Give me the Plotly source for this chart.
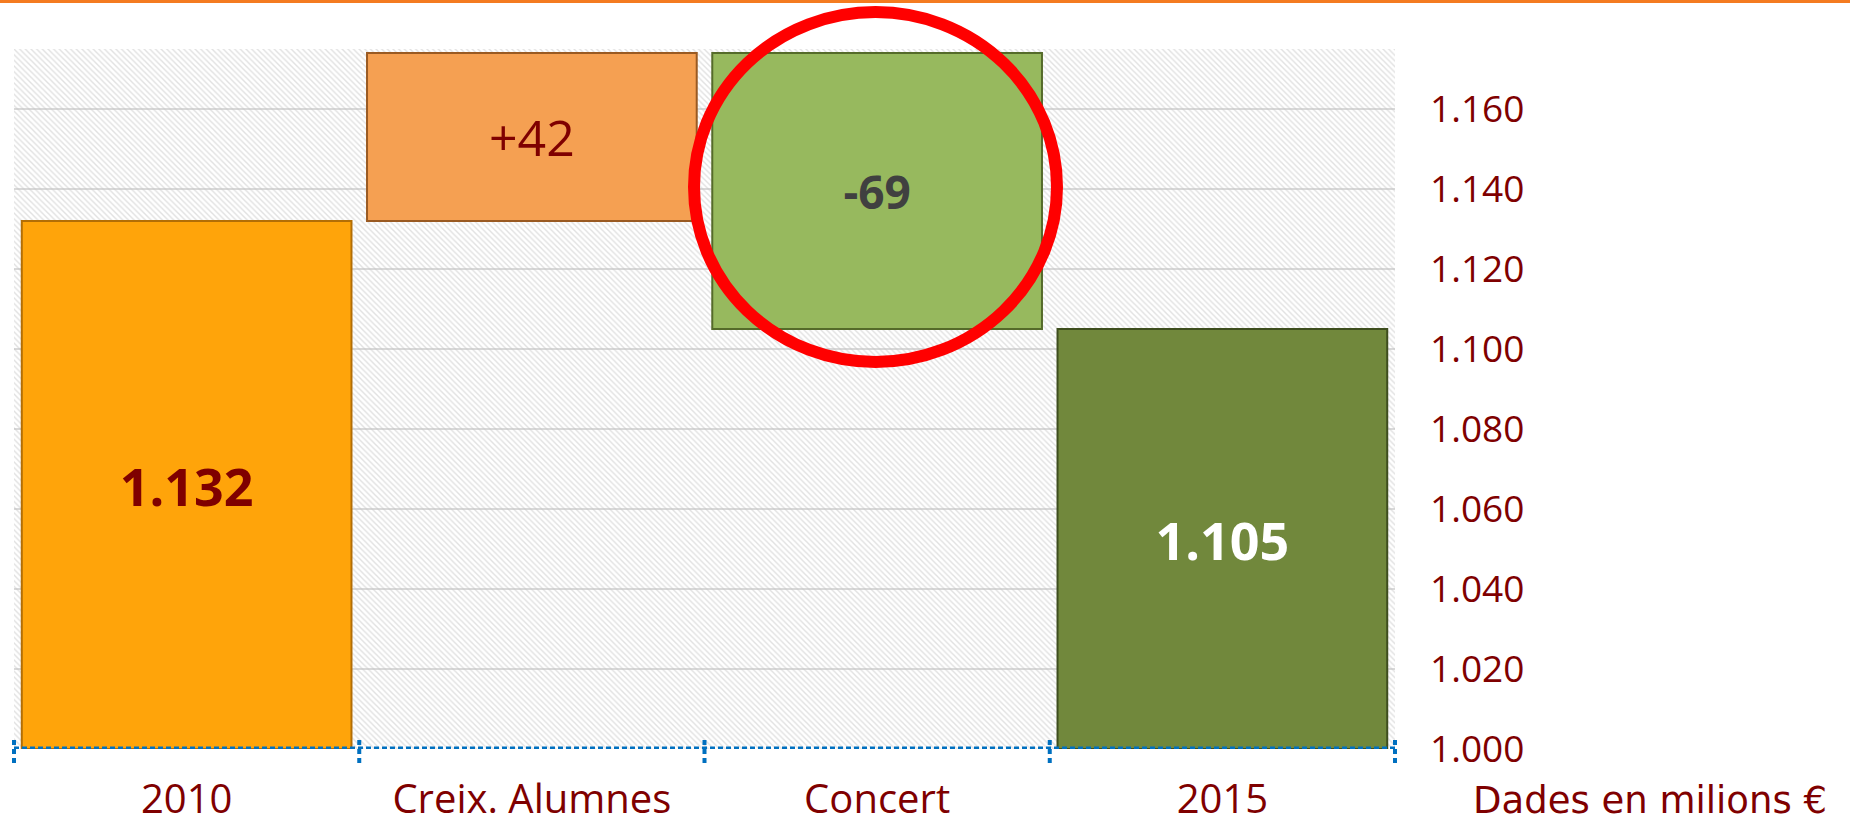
import plotly.graph_objects as go

# ---------------- data ----------------
categories = ["2010", "Creix. Alumnes", "Concert", "2015"]
measures = ["absolute", "relative", "relative", "total"]
values = [1132, 42, -69, 1105]
y_ticks = [1000, 1020, 1040, 1060, 1080, 1100, 1120, 1140, 1160]
y_min, y_max = 1000, 1175
unit_note = "Dades en milions €"

# ---------------- styles ----------------
bar_colors = ["#FFA40A", "#F5A052", "#97B95E", "#71883C"]
bar_lines = ["#B36E05", "#9A5A22", "#556B2A", "#3E4E1E"]
label_colors = ["#7F0000", "#7F0000", "#404040", "#FFFFFF"]
label_weights = ["bold", "normal", "bold", "bold"]
label_sizes = [52, 50, 46, 52]
dark_red = "#7F0000"

W, H = 1850, 824
px_left, px_right, px_top, px_bottom = 14, 1395, 49, 749
xdom = [px_left / W, px_right / W]
ydom = [(H - px_bottom) / H, (H - px_top) / H]

# waterfall bases / labels (absolute bars start at the axis floor)
bases, heights, labels = [], [], []
running = 0
for m, v in zip(measures, values):
    if m in ("absolute", "total"):
        bases.append(y_min); heights.append(v - y_min); running = v
        labels.append(f"{v:,}".replace(",", "."))
    else:
        bases.append(running); heights.append(v); running += v
        labels.append(f"{v:+d}")

xpos = list(range(len(categories)))
n = len(categories)

fig = go.Figure()

# hatched plot background
fig.add_trace(go.Bar(
    x=[(n - 1) / 2], y=[y_max - y_min], base=[y_min], width=[n],
    marker=dict(color="rgba(0,0,0,0)", line=dict(width=0),
                pattern=dict(shape="\\", fgcolor="#c4c4c4", bgcolor="rgba(0,0,0,0)",
                             size=4, solidity=0.35)),
    hoverinfo="skip", showlegend=False,
))

for i in range(n):
    fig.add_trace(go.Bar(
        x=[xpos[i]], y=[heights[i]], base=[bases[i]], width=[0.955],
        marker=dict(color=bar_colors[i], line=dict(color=bar_lines[i], width=2)),
        text=[labels[i]], textposition="inside", insidetextanchor="middle",
        textangle=0, constraintext="none",
        textfont=dict(family="Open Sans", size=label_sizes[i],
                      color=label_colors[i], weight=label_weights[i]),
        showlegend=False, name=categories[i],
    ))

shapes = []
# orange top rule
shapes.append(dict(type="line", xref="paper", yref="paper", x0=0, x1=1,
                   y0=(H - 1.5) / H, y1=(H - 1.5) / H,
                   line=dict(color="#F47B20", width=3), layer="above"))
# blue dotted baseline
shapes.append(dict(type="line", xref="paper", yref="y", x0=xdom[0], x1=xdom[1],
                   y0=y_min, y1=y_min,
                   line=dict(color="#0070C0", width=5, dash="5px,3px"), layer="above"))
# dotted boundary ticks
for k in range(n + 1):
    xp = xdom[0] + k / n * (xdom[1] - xdom[0])
    shapes.append(dict(type="line", xref="paper", yref="paper", x0=xp, x1=xp,
                       y0=ydom[0] - 14 / H, y1=ydom[0] + 13 / H,
                       line=dict(color="#0070C0", width=4, dash="5px,4px"), layer="above"))
# red highlight ellipse
shapes.append(dict(type="circle", xref="paper", yref="paper",
                   x0=694 / W, x1=1057 / W, y0=(H - 362) / H, y1=(H - 12) / H,
                   line=dict(color="#FF0000", width=12), layer="above"))

fig.update_layout(
    width=W, height=H, margin=dict(l=0, r=0, t=0, b=0, autoexpand=False),
    paper_bgcolor="white", plot_bgcolor="white",
    barmode="overlay", separators=",.",
    shapes=shapes,
    xaxis=dict(domain=xdom, range=[-0.5, n - 0.5], tickmode="array",
               tickvals=xpos, ticktext=categories, showgrid=False, zeroline=False,
               showline=False, ticks="", ticklabelstandoff=23, automargin=False,
               tickfont=dict(family="Open Sans", size=40, color=dark_red)),
    yaxis=dict(domain=ydom, range=[y_min, y_max], side="right", tickmode="array",
               tickvals=y_ticks, tickformat=",d", showgrid=True,
               gridcolor="#d9d9d9", gridwidth=2, zeroline=False, showline=False,
               ticks="", ticklabelstandoff=34, automargin=False,
               tickfont=dict(family="Open Sans", size=37, color=dark_red)),
    annotations=[dict(text=unit_note, xref="paper", yref="paper",
                      x=1471 / W, y=24 / H, xanchor="left", yanchor="middle",
                      showarrow=False,
                      font=dict(family="DejaVu Sans", size=37, color=dark_red))],
)

fig.write_html("out.html", config={"displayModeBar": False},
               post_script="document.body.style.margin='0';")
